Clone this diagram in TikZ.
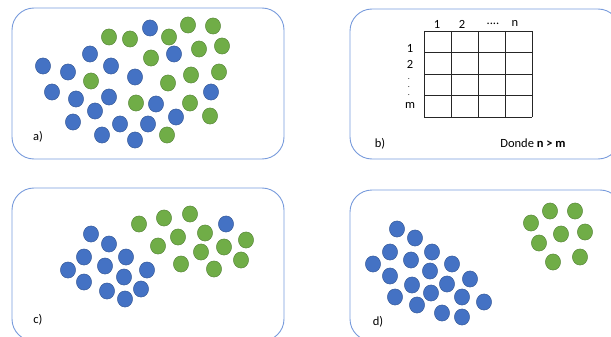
\documentclass[tikz,border=0pt]{standalone}
\usepackage{fontspec}
\setmainfont{Carlito}
\usepackage{xcolor}
\usetikzlibrary{calc}
\definecolor{dotblue}{RGB}{68,114,196}
\definecolor{dotblueline}{RGB}{47,82,143}
\definecolor{dotgreen}{RGB}{112,173,71}
\definecolor{dotgreenline}{RGB}{80,126,50}
\definecolor{panelline}{RGB}{120,155,220}
\tikzset{
  panel/.style={draw=panelline,line width=0.9pt,rounded corners=22pt},
  bluedot/.style={fill=dotblue,draw=dotblueline,line width=0.4pt},
  greendot/.style={fill=dotgreen,draw=dotgreenline,line width=0.4pt},
  gridline/.style={draw=black!85,line width=0.6pt},
  lbl/.style={font=\fontsize{12.5}{14}\selectfont,inner sep=0pt}
}
\begin{document}
\begin{tikzpicture}[x=1pt,y=-1pt]
\useasboundingbox(0,0)rectangle(611,337);
% panels
\draw[panel](12,8)rectangle(284,159);
\draw[panel](350,9)rectangle(620,159);
\draw[panel](12,188)rectangle(284,341);
\draw[panel](350,190)rectangle(622,341);
% a)
\foreach\x/\y in{150/28,90/54,174/54,43/66,68/72,111/66,135/77,52/92,76/99,109/97,211/92,95/111,156/104,73/122,120/124,148/124,176/117,102/135,135/140}
  \draw[bluedot](\x,\y)ellipse[x radius=7.6,y radius=8.1];
\foreach\x/\y in{109/37,130/39,188/25,213/26,169/37,151/58,199/49,222/46,91/81,168/83,191/75,219/72,136/103,190/103,210/116,167/135}
  \draw[greendot](\x,\y)ellipse[x radius=7.6,y radius=8.1];
\node[lbl](la)at(38,137){a)};
% b)
\foreach\i in{0,...,4}{
  \draw[gridline](424+27*\i,31)--(424+27*\i,117.4);
  \draw[gridline](424,31+21.6*\i)--(532,31+21.6*\i);}
\node[lbl](c1)at(437,24){1};\node[lbl](c2)at(462,24){2};\node[lbl](cd)at(493,24){....};\node[lbl](cn)at(515,23){n};
\node[lbl](r1)at(410,48){1};\node[lbl](r2)at(410,64){2};
\node[lbl,align=center,font=\fontsize{8}{8}\selectfont](rd)at(409,87){.\\.\\.};
\node[lbl](rm)at(410,105){m};
\node[lbl](lb)at(380,144){b)};
\node[lbl](cond)at(533,143){Donde \textbf{n > m}};
% c)
\foreach\x/\y in{91/234,109/244,84/257,126/257,105/266,68/270,147/270,124/277,84/282,107/291,141/289,125/299,226/224}
  \draw[bluedot](\x,\y)ellipse[x radius=7.6,y radius=8.1];
\foreach\x/\y in{139/224,164/218,190/214,158/246,178/237,205/233,201/252,224/247,246/240,181/264,214/269,241/260}
  \draw[greendot](\x,\y)ellipse[x radius=7.6,y radius=8.1];
\node[lbl](lc)at(38,320){c)};
% d)
\foreach\x/\y in{397/229,415/238,390/252,432/252,411/260,373/264,452/264,430/271,390/276,447/284,412/285,470/279,395/297,431/293,462/297,417/305,442/313,484/302,462/317}
  \draw[bluedot](\x,\y)ellipse[x radius=7.6,y radius=8.1];
\foreach\x/\y in{531/223,550/211,575/211,561/234,585/232,539/243,553/262,580/257}
  \draw[greendot](\x,\y)ellipse[x radius=7.6,y radius=8.1];
\node[lbl](ld)at(378,322){d)};
\end{tikzpicture}
\end{document}
